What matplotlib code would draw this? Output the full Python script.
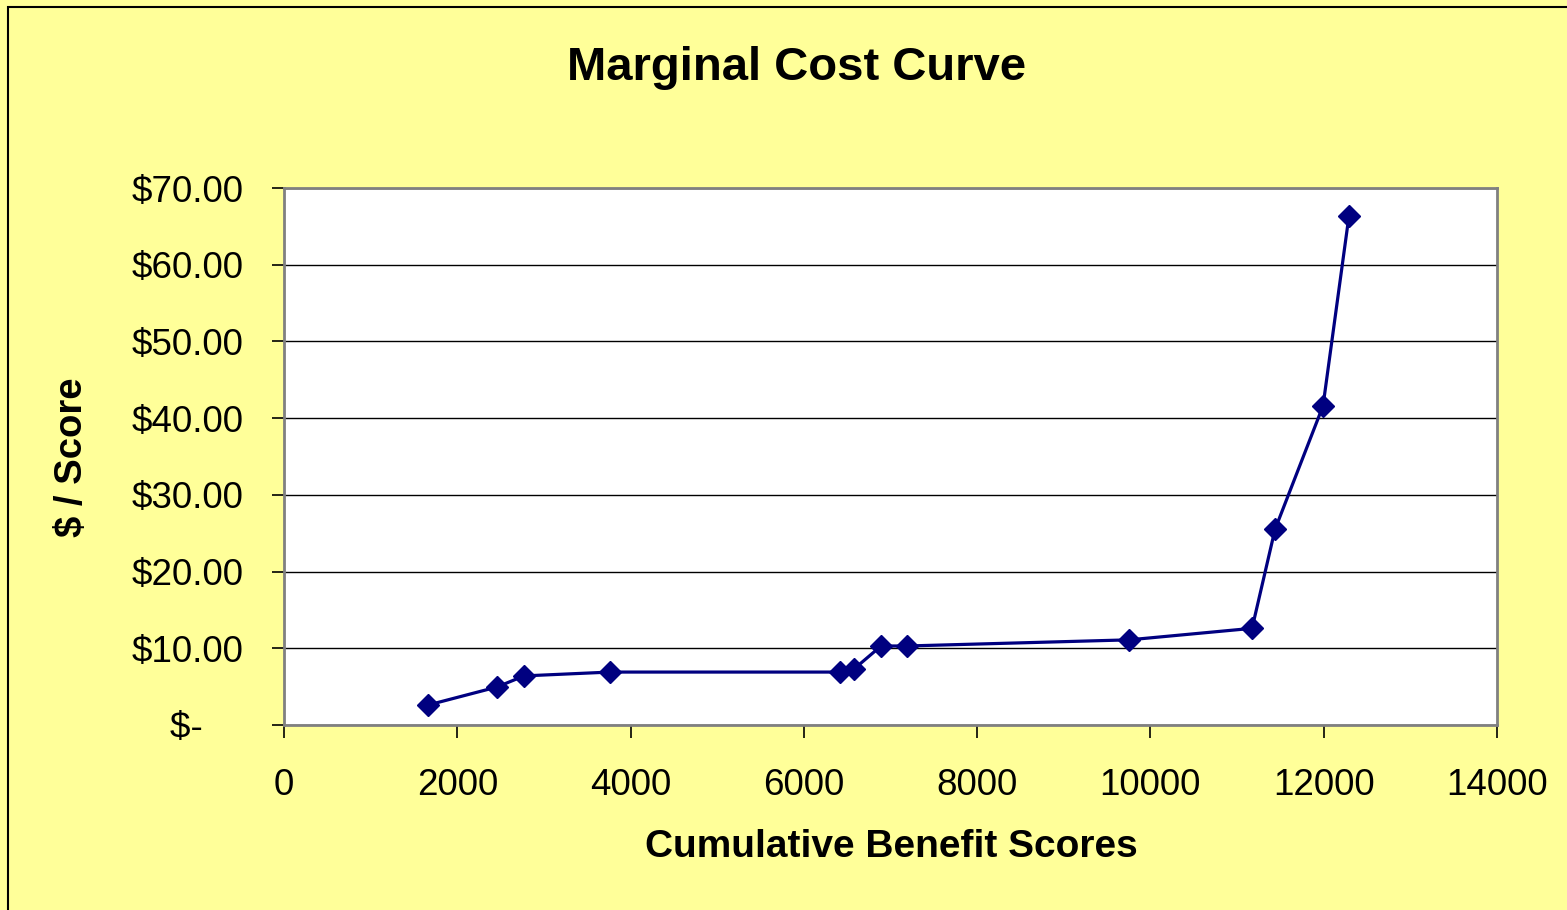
import matplotlib
matplotlib.use("Agg")
import matplotlib.pyplot as plt
from matplotlib.patches import Rectangle
from matplotlib.ticker import FuncFormatter

# cumulative benefit score vs marginal cost per score point
benefit = [1662, 2458, 2770, 3763, 6417, 6579, 6891, 7191, 9753, 11173, 11438, 11992, 12292]
cost = [2.6, 4.95, 6.4, 6.9, 6.9, 7.3, 10.3, 10.3, 11.1, 12.6, 25.5, 41.6, 66.4]

x_ticks = [0, 2000, 4000, 6000, 8000, 10000, 12000, 14000]
y_ticks = [0, 10, 20, 30, 40, 50, 60, 70]

plt.rcParams['font.family'] = ['Liberation Sans', 'DejaVu Sans']

W, H = 1567, 910
fig = plt.figure(figsize=(W / 100, H / 100), dpi=100)
fig.patch.set_facecolor('#FFFF99')
# chart area frame
fig.patches.append(Rectangle((8 / W, -0.01), 1.02, 1 - 7 / H + 0.01,
                             transform=fig.transFigure, fill=False,
                             edgecolor='black', linewidth=1.5))

ax = fig.add_axes([284 / W, 1 - 725 / H, (1497 - 284) / W, (725 - 188) / H])
ax.set_facecolor('white')

ax.plot(benefit, cost, color='#000080', linewidth=2.3, marker='D',
        markersize=11.5, markerfacecolor='#000080', markeredgecolor='#000080',
        zorder=3)

ax.set_xlim(0, 14000)
ax.set_ylim(0, 70)
ax.set_xticks(x_ticks)
ax.set_yticks(y_ticks)


def money(v, pos):
    if v == 0:
        return '$-    '
    return '${:.2f}'.format(v)


ax.yaxis.set_major_formatter(FuncFormatter(money))
ax.yaxis.grid(True, color='black', linewidth=1.0)
ax.set_axisbelow(True)

for s in ax.spines.values():
    s.set_color('#808080')
    s.set_linewidth(2)

ax.tick_params(axis='both', direction='out', length=9, width=1.2, color='black',
               labelsize=26.5)
ax.tick_params(axis='y', pad=20)
ax.tick_params(axis='x', pad=22)

fig.text(891 / W, 1 - 847 / H, 'Cumulative Benefit Scores', fontsize=28,
         fontweight='bold', ha='center', va='center')
fig.text(72 / W, 1 - 457 / H, '$ / Score', fontsize=27.5, fontweight='bold',
         ha='center', va='center', rotation=90)
fig.text(797 / W, 1 - 68 / H, 'Marginal Cost Curve', fontsize=34,
         fontweight='bold', ha='center', va='center')

fig.savefig('out.png', dpi=100, facecolor=fig.get_facecolor())
